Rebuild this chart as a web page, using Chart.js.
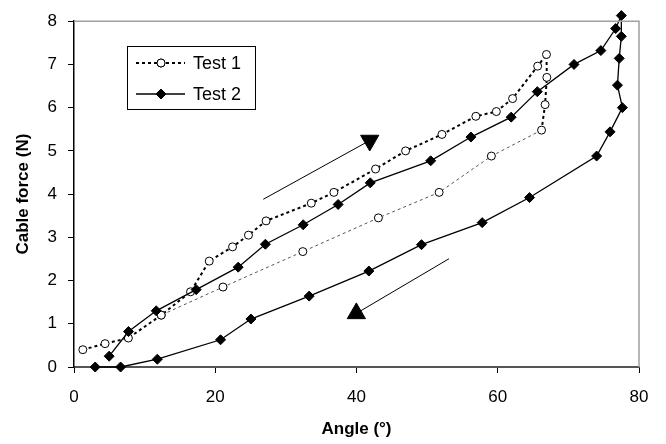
<!DOCTYPE html>
<html>
<head>
<meta charset="utf-8">
<script src="https://cdn.jsdelivr.net/npm/chart.js@4"></script>
<style>
  body { margin: 0; background: #fff; }
  #wrap { width: 666px; height: 444px; }
</style>
</head>
<body>
<div id="wrap"><canvas id="myChart" width="666" height="444"></canvas></div>
<script>
// Test 1: loading branch, then the drop at the top, then the unloading branch
const test1X = [1.25, 4.4, 7.7, 12.35, 16.5, 19.15, 22.45, 24.7, 27.2, 33.6, 36.8, 42.7, 46.95, 52.1, 56.9, 59.8, 62.1, 65.65, 66.9, 66.95, 66.7, 66.2, 59.1, 51.7, 43.1, 32.4, 21.1, 12.35];
const test1Y = [0.40, 0.54, 0.67, 1.20, 1.74, 2.45, 2.78, 3.05, 3.38, 3.79, 4.04, 4.58, 5.00, 5.38, 5.80, 5.91, 6.21, 6.96, 7.23, 6.70, 6.07, 5.48, 4.88, 4.04, 3.45, 2.67, 1.85, 1.20];
const test1ReturnFrom = 21; // segments after this index are the thin return path

// Test 2
const test2X = [4.98, 7.72, 11.64, 17.3, 23.25, 27.1, 32.45, 37.4, 41.95, 50.5, 56.2, 61.9, 65.6, 70.8, 74.6, 76.7, 77.5, 77.5, 77.2, 76.95, 77.65, 75.9, 74.0, 64.5, 57.8, 49.2, 41.75, 33.3, 25.05, 20.75, 11.8, 6.6, 3.0];
const test2Y = [0.25, 0.82, 1.30, 1.79, 2.31, 2.84, 3.29, 3.76, 4.26, 4.77, 5.32, 5.78, 6.37, 7.00, 7.32, 7.83, 8.13, 7.65, 7.14, 6.52, 6.00, 5.44, 4.88, 3.92, 3.34, 2.83, 2.22, 1.64, 1.11, 0.63, 0.18, 0, 0];

// direction arrows (start, head)
const arrowUpX = [26.8, 41.87];
const arrowUpY = [3.88, 5.24];
const arrowDownX = [53.1, 39.98];
const arrowDownY = [2.505, 1.24];

const xTicks = [0, 20, 40, 60, 80];
const yTicks = [0, 1, 2, 3, 4, 5, 6, 7, 8];

const seriesNames = ["Test 1", "Test 2"];

const FONT = "'Liberation Sans', Arial, sans-serif";

function pts(xs, ys) {
    return xs.map((x, i) => ({ x: x, y: ys[i] }));
}

// top and right frame of the plot area
const frameLines = {
    id: "frameLines",
    afterDraw(chart) {
        const { ctx, chartArea: a } = chart;
        ctx.save();
        ctx.strokeStyle = "#a0a0a0";
        ctx.lineWidth = 1.5;
        ctx.beginPath();
        ctx.moveTo(a.left, a.top);
        ctx.lineTo(a.right, a.top);
        ctx.lineTo(a.right, a.bottom);
        ctx.stroke();
        ctx.restore();
    }
};

// boxed legend inside the plot
const boxLegend = {
    id: "boxLegend",
    afterDraw(chart) {
        const ctx = chart.ctx;
        const bx = 127, by = 46, bw = 128, bh = 63;
        ctx.save();
        ctx.fillStyle = "#fff";
        ctx.fillRect(bx, by, bw, bh);
        ctx.strokeStyle = "#000";
        ctx.lineWidth = 1;
        ctx.strokeRect(bx + 0.5, by + 0.5, bw, bh);

        const rows = [63, 94];
        rows.forEach((ry, i) => {
            const ds = chart.data.datasets[i];
            ctx.strokeStyle = "#000";
            ctx.lineWidth = ds.borderWidth;
            ctx.setLineDash(ds.borderDash || []);
            ctx.beginPath();
            ctx.moveTo(136, ry);
            ctx.lineTo(185, ry);
            ctx.stroke();
            ctx.setLineDash([]);
            ctx.fillStyle = ds.pointBackgroundColor;
            ctx.lineWidth = 1;
            Chart.helpers.drawPoint(ctx, {
                pointStyle: ds.pointStyle,
                radius: ds.pointRadius,
                borderWidth: 1,
                rotation: 0
            }, 161, ry);
            if (ds.pointStyle === "circle") {
                ctx.fill();
                ctx.stroke();
            }
            ctx.fillStyle = "#000";
            ctx.font = "18px " + FONT;
            ctx.textBaseline = "middle";
            ctx.textAlign = "left";
            ctx.fillText(seriesNames[i], 193, ry + 1);
        });
        ctx.restore();
    }
};

const config = {
    type: "scatter",
    data: {
        datasets: [
            {
                label: seriesNames[0],
                data: pts(test1X, test1Y),
                showLine: true,
                borderColor: "#000",
                borderWidth: 2,
                borderDash: [3, 3],
                segment: {
                    borderWidth: c => c.p0DataIndex >= test1ReturnFrom ? 1 : 2,
                    borderColor: c => c.p0DataIndex >= test1ReturnFrom ? "#555" : "#000"
                },
                pointStyle: "circle",
                pointRadius: 4,
                pointBackgroundColor: "#fff",
                pointBorderColor: "#000",
                pointBorderWidth: 1,
                clip: false,
                order: 2
            },
            {
                label: seriesNames[1],
                data: pts(test2X, test2Y),
                showLine: true,
                borderColor: "#000",
                borderWidth: 1.3,
                pointStyle: "rectRot",
                pointRadius: 5,
                pointBackgroundColor: "#000",
                pointBorderColor: "#000",
                pointBorderWidth: 1,
                clip: false,
                order: 1
            },
            {
                label: "arrow up",
                data: pts(arrowUpX, arrowUpY),
                showLine: true,
                borderColor: "#000",
                borderWidth: 1,
                pointStyle: "triangle",
                pointRotation: 180,
                pointRadius: [0, 10.5],
                pointBackgroundColor: "#000",
                pointBorderColor: "#000",
                clip: false
            },
            {
                label: "arrow down",
                data: pts(arrowDownX, arrowDownY),
                showLine: true,
                borderColor: "#000",
                borderWidth: 1,
                pointStyle: "triangle",
                pointRadius: [0, 10.5],
                pointBackgroundColor: "#000",
                pointBorderColor: "#000",
                clip: false
            }
        ]
    },
    options: {
        responsive: false,
        animation: false,
        devicePixelRatio: 1,
        layout: { padding: { top: 18, right: 27, left: 0, bottom: 0 } },
        plugins: {
            legend: { display: false },
            tooltip: { enabled: false }
        },
        scales: {
            x: {
                type: "linear",
                min: 0,
                max: 80,
                afterFit: s => { s.height = 77; },
                afterBuildTicks: s => { s.ticks = xTicks.map(v => ({ value: v })); },
                ticks: {
                    color: "#000",
                    padding: 14,
                    font: { family: FONT, size: 17 }
                },
                grid: { drawOnChartArea: false, drawTicks: true, tickLength: 6, color: "#000" },
                border: { color: "#555", width: 2 },
                title: {
                    display: true,
                    text: "Angle (°)",
                    color: "#000",
                    font: { family: FONT, size: 17, weight: "bold" },
                    padding: { top: 0, bottom: 4 }
                }
            },
            y: {
                type: "linear",
                min: 0,
                max: 8,
                afterFit: s => { s.width = 74; },
                afterBuildTicks: s => { s.ticks = yTicks.map(v => ({ value: v })); },
                ticks: {
                    color: "#000",
                    padding: 11,
                    font: { family: FONT, size: 17 }
                },
                grid: { drawOnChartArea: false, drawTicks: true, tickLength: 6, color: "#000" },
                border: { color: "#000", width: 1.5 },
                title: {
                    display: true,
                    text: "Cable force (N)",
                    color: "#000",
                    font: { family: FONT, size: 17, weight: "bold" },
                    padding: { top: 13, bottom: 0 }
                }
            }
        }
    },
    plugins: [frameLines, boxLegend]
};

const ctx = document.getElementById("myChart").getContext("2d");
const myChart = new Chart(ctx, config);
</script>
</body>
</html>
